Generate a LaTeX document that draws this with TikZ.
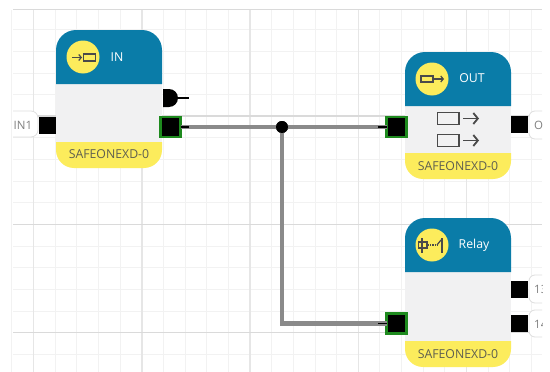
\documentclass[tikz,border=0pt]{standalone}
\usepackage{fontspec}
\usetikzlibrary{arrows.meta}
\setmainfont{Open Sans}
\definecolor{hdr}{HTML}{0A7CA8}
\definecolor{body}{HTML}{F1F1F2}
\definecolor{yel}{HTML}{FCEC5C}
\definecolor{grida}{HTML}{F2F2F2}
\definecolor{gridb}{HTML}{E6E6E6}
\definecolor{gridc}{HTML}{DADADA}
\definecolor{txt}{HTML}{5F5F50}
\definecolor{ico}{HTML}{4A4A4A}
\definecolor{lbl}{HTML}{808080}
\definecolor{grn}{HTML}{1E8A1E}
\tikzset{
  x=1pt,y=-1pt,
  port/.style={fill=black,draw=none,minimum width=17pt,minimum height=17pt,inner sep=0pt,outer sep=0pt},
  cport/.style={fill=black,draw=grn,line width=2.2pt,minimum width=20pt,minimum height=20pt,inner sep=0pt,outer sep=0pt},
  wire/.style={draw=black!46,line width=4.8pt},
  wirecore/.style={draw=black,line width=1.5pt},
  tag/.style={draw=black!13,fill=white,rounded corners=6pt,line width=.8pt},
  title/.style={text=white,font=\fontsize{12.3}{13}\selectfont},
  part/.style={text=txt,font=\fontsize{12.3}{13}\selectfont},
  tagtext/.style={text=lbl,font=\fontsize{11.5}{12}\selectfont,inner sep=0pt},
  badge/.style={circle,fill=yel,draw=none,minimum size=33pt,inner sep=0pt},
  ic/.style={draw=ico,line width=1.2pt},
  icb/.style={draw=ico,line width=1.8pt},
  gmin/.style={draw=grida,line width=.9pt},
  gmaj/.style={draw=gridb,line width=1.3pt},
  gmajh/.style={draw=gridc,line width=1.2pt},
}
\newcommand{\block}[6]{% x left, x right, top, header bottom, yellow top, bottom
  \fill[yel] (#1,#5) -- (#2,#5) -- (#2,#6-18) arc[start angle=0,end angle=90,radius=18] -- (#1+18,#6) arc[start angle=90,end angle=180,radius=18] -- cycle;
  \fill[body] (#1,#4) rectangle (#2,#5);
  \fill[hdr] (#1,#4) -- (#1,#3+20) arc[start angle=180,end angle=270,radius=20] -- (#2-20,#3) arc[start angle=270,end angle=360,radius=20] -- (#2,#4) -- cycle;
}
\begin{document}
\begin{tikzpicture}
\useasboundingbox (0,0) rectangle (550,372);
\fill[white] (0,0) rectangle (550,372);
% grid
\foreach \i in {0,...,24}{\pgfmathsetmacro\gx{33.5+21.65*\i-21.65}
  \draw[gmin] (\gx,10) -- (\gx,372);}
\foreach \i in {1,...,16}{\pgfmathsetmacro\gy{8+21.65*\i}
  \draw[gmin] (13,\gy) -- (542,\gy);}
\foreach \gx in {33.5,142,250,358.5,466.5}{\draw[gmaj] (\gx,10) -- (\gx,372);}
\foreach \gy in {116,224.5,332.5}{\draw[gmajh] (13,\gy) -- (542,\gy);}
\draw[gmajh] (13,9.5) -- (542,9.5);
% blocks
\block{56}{162}{30}{84}{142}{168}
\block{405}{511}{52}{106}{153}{179}
\block{405}{511}{218}{272}{341}{367}
% titles
\node[badge] (inbadge) at (83,57) {};
\node[title] (intitle) at (117,57) {IN};
\node[part] (inpart) at (109,154.5) {SAFEONEXD-0};
\node[badge] (outbadge) at (432,79) {};
\node[title] (outtitle) at (472,78) {OUT};
\node[part] (outpart) at (458,166) {SAFEONEXD-0};
\node[badge] (relbadge) at (432,245) {};
\node[title] (reltitle) at (474,245) {Relay};
\node[part] (relpart) at (458,354) {SAFEONEXD-0};
% badge icons
\draw[ic,-{Straight Barb[length=2.5pt,width=6pt]}] (72,57.5) -- (82,57.5);
\draw[ic] (83.5,54) rectangle (95.5,61);
\draw[ic] (421,76) rectangle (433,82);
\draw[ic,-{Straight Barb[length=2.5pt,width=6pt]}] (433,79) -- (444,79);
\draw[ic] (418.5,242) rectangle (427,248);
\draw[ic] (422,238) -- (422,253);
\draw[ic,densely dotted] (428,245) -- (437,245);
\draw[ic] (437,245) -- (441,240);
\draw[ic] (442,238) -- (442,253);
% out block icons
\draw[icb] (437.5,112.5) rectangle (459,124.5);
\draw[icb,-{Straight Barb[length=4.5pt,width=11pt]}] (463,118.5) -- (479,118.5);
\draw[icb] (437.5,134.5) rectangle (459,146.5);
\draw[icb,-{Straight Barb[length=4.5pt,width=11pt]}] (463,140.5) -- (479,140.5);
% tags
\fill[white] (13,111) -- (31,111) arc[start angle=-90,end angle=0,radius=7] -- (38,130) arc[start angle=0,end angle=90,radius=7] -- (13,137) -- cycle;
\draw[black!13,line width=.8pt] (13,111) -- (31,111) arc[start angle=-90,end angle=0,radius=7] -- (38,130) arc[start angle=0,end angle=90,radius=7] -- (13,137);
\node[tagtext,anchor=west] (tagin) at (13.5,125) {IN1};
\begin{scope}
\clip (0,0) rectangle (542,372);
\draw[tag] (529,111) rectangle (560,139);
\draw[tag] (529,275) rectangle (560,303);
\draw[tag] (529,310) rectangle (560,337);
\node[tagtext,anchor=west] (tago) at (534,125) {O};
\node[tagtext,anchor=west] (tag13) at (534,289) {13};
\node[tagtext,anchor=west] (tag14) at (534,324) {14};
\end{scope}
% ports
\node[port] (pin) at (47.5,125) {};
\node[cport] (pinout) at (170.5,127) {};
\node[port,minimum width=2pt,minimum height=2pt] (pfb) at (176,98) {};
\fill[black] (163,89) -- (169,89) arc[start angle=-90,end angle=90,radius=9] -- (163,107) -- cycle;
\node[cport] (pouta) at (396.5,127) {};
\node[port] (poutb) at (519.5,124.5) {};
\node[cport] (prel) at (396.5,323.5) {};
\node[port] (p13) at (519.5,289.5) {};
\node[port] (p14) at (519.5,323.5) {};
\coordinate (fbend) at (189,98);
\draw[black,line width=2pt] (pfb.center) -- (fbend);
% wires
\node[circle,fill=black,minimum size=12pt,inner sep=0pt] (junc) at (282,127) {};
\draw[wire] (pinout.east) -- (pouta.west);
\draw[wire] (junc.center) |- (prel.west);
\coordinate (s1) at (189,127);
\coordinate (s2) at (378,127);
\coordinate (s3) at (378,323.5);
\draw[wirecore] (pinout.east) -- (s1);
\draw[wirecore] (s2) -- (pouta.west);
\draw[wirecore] (s3) -- (prel.west);
\fill[black] (junc) circle[radius=6];
\end{tikzpicture}
\end{document}
